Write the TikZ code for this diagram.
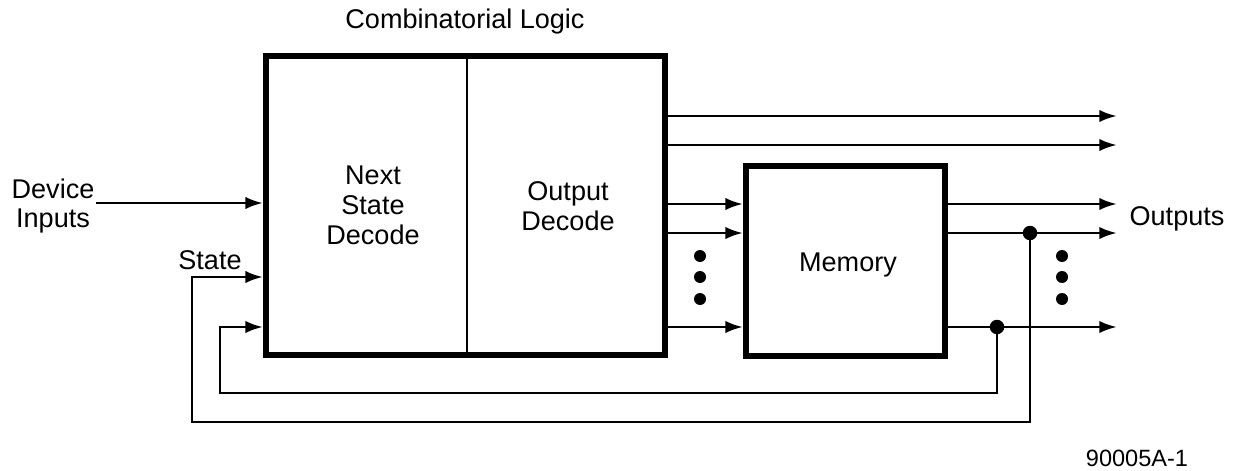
\documentclass[tikz,border=0pt]{standalone}
\usepackage{fontspec}
\setmainfont{Liberation Sans}
\usetikzlibrary{arrows.meta,positioning}
\tikzset{
  block/.style={draw,line width=3.4pt,minimum width=#1,inner sep=0pt},
  lbl/.style={align=center,font=\fontsize{15.4}{17}\selectfont,inner sep=1pt},
  flow/.style={-{Latex[length=10pt,width=7pt]},line width=1.6pt},
  wire/.style={line width=1.6pt},
  dot/.style={circle,fill,inner sep=0pt,minimum size=#1}
}
\begin{document}
\begin{tikzpicture}[x=0.02cm,y=-0.02cm]
  \useasboundingbox (0,0) rectangle (1239,470);
  % blocks
  \node[block=7.98cm,minimum height=5.98cm] (comb) at (465.5,205.5) {};
  \node[block=3.98cm,minimum height=3.8cm] (mem) at (845.5,261) {};
  \draw[wire] (467,0 |- comb.north) -- (467,0 |- comb.south);
  % labels
  \node[lbl] (title) at (465,22) {Combinatorial Logic};
  \node[lbl] (nsd) at (373,205) {Next\\State\\Decode};
  \node[lbl] (od) at (568,206) {Output\\Decode};
  \node[lbl] (memlbl) at (848,265) {Memory};
  \node[lbl] (devin) at (53,206) {Device\\Inputs};
  \node[lbl] (state) at (210,260) {State};
  \node[lbl] (outs) at (1177,219) {Outputs};
  \node[lbl,font=\fontsize{13.4}{15}\selectfont] (fig) at (1137,458) {90005A-1};
  % outputs straight from the decoder
  \foreach \y in {116,145}
    \draw[flow] (comb.east |- 0,\y) -- (1117,\y);
  % decoder to memory, memory to outputs
  \foreach \y in {204,233,327} {
    \draw[flow] (comb.east |- 0,\y) -- (mem.west |- 0,\y);
    \draw[flow] (mem.east |- 0,\y) -- (1117,\y);
  }
  \foreach \y in {256,277,299} {
    \node[dot=0.24cm] at (700,\y) {};
    \node[dot=0.24cm] at (1062,\y) {};
  }
  % inputs
  \draw[flow] (devin.east |- 0,203) -- (comb.west |- 0,203);
  % feedback
  \node[dot=0.29cm] (j1) at (1030,233) {};
  \node[dot=0.29cm] (j2) at (997,327) {};
  \coordinate (fb1) at (192,422);
  \coordinate (fb2) at (220,393);
  \draw[flow] (j1.center) |- (fb1) |- (comb.west |- 0,277);
  \draw[flow] (j2.center) |- (fb2) |- (comb.west |- 0,327);
\end{tikzpicture}
\end{document}
